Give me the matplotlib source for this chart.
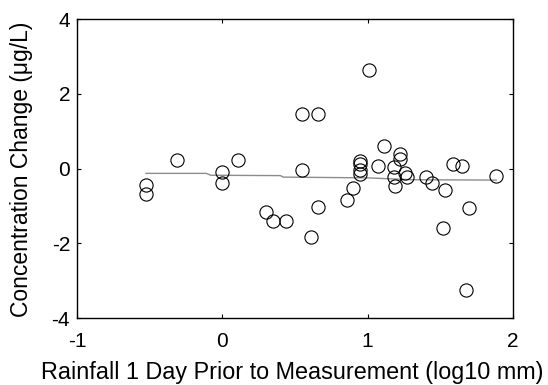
import matplotlib as mpl
mpl.use("Agg")
import matplotlib.pyplot as plt

# scatter points (log10 rainfall, concentration change)
rain_log = [-0.525, -0.525, -0.31, 0.0, 0.0, 0.11, 0.30, 0.35, 0.44, 0.55, 0.55, 0.61,
            0.66, 0.66, 1.01, 0.86, 0.90, 0.945, 0.95, 0.945, 0.945, 1.07, 1.11, 1.18,
            1.18, 1.19, 1.22, 1.22, 1.26, 1.27, 1.40, 1.44, 1.53, 1.52, 1.585, 1.65,
            1.70, 1.675, 1.885]
conc_change = [-0.43, -0.68, 0.24, -0.10, -0.38, 0.24, -1.17, -1.41, -1.41, 1.46, -0.05, -1.84,
               1.46, -1.02, 2.64, -0.83, -0.52, 0.21, 0.12, -0.05, -0.14, 0.06, 0.60, 0.04,
               -0.23, -0.47, 0.39, 0.26, -0.12, -0.23, -0.23, -0.39, -0.57, -1.60, 0.11, 0.06,
               -1.06, -3.24, -0.19]

# smoothed trend line
trend_x = [-0.525, -0.11, -0.08, 0.40, 0.42, 1.0, 1.3, 1.885]
trend_y = [-0.13, -0.13, -0.18, -0.19, -0.23, -0.25, -0.30, -0.31]

x_ticks = [-1, 0, 1, 2]
y_ticks = [-4, -2, 0, 2, 4]

plt.rcParams['font.family'] = ['Liberation Sans', 'DejaVu Sans']
plt.rcParams['axes.unicode_minus'] = False

fig = plt.figure(figsize=(5.48, 3.85), dpi=100)
ax = fig.add_axes([0.1405, 0.174, 0.7955, 0.7766])

ax.plot(trend_x, trend_y, color='0.55', linewidth=1.0, zorder=1)
ax.plot(rain_log, conc_change, linestyle='none', marker='o', markersize=9.5,
        markerfacecolor='none', markeredgecolor='black', markeredgewidth=0.8, zorder=2)

ax.set_xlim(-1, 2)
ax.set_ylim(-4, 4)
ax.set_xticks(x_ticks)
ax.set_yticks(y_ticks)
ax.tick_params(direction='in', top=True, right=True, length=3, width=0.8, labelsize=15)
ax.tick_params(axis='x', pad=10)
ax.tick_params(axis='y', pad=5)
for s in ax.spines.values():
    s.set_linewidth(1.0)

ax.set_xlabel("Rainfall 1 Day Prior to Measurement (log10 mm)", fontsize=16.8)
ax.set_ylabel("Concentration Change (\u03bcg/L)", fontsize=16.5)
ax.xaxis.set_label_coords(0.494, -0.145)
ax.yaxis.set_label_coords(-0.101, 0.498)

fig.savefig("out.png", dpi=100)
